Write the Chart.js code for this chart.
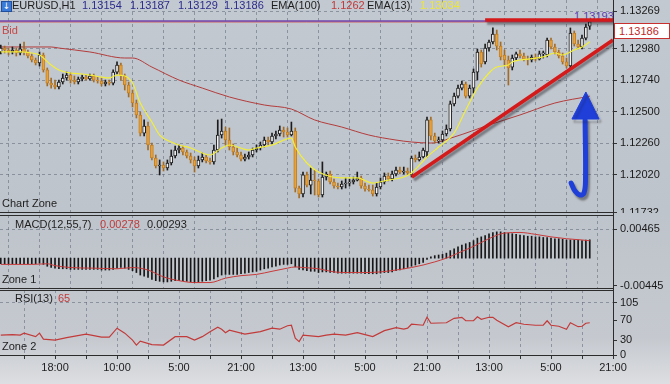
<!DOCTYPE html>
<html><head><meta charset="utf-8">
<script src="https://cdn.jsdelivr.net/npm/chart.js@4.4.0/dist/chart.umd.min.js"></script>
<style>
html,body{margin:0;padding:0;}
body{width:670px;height:384px;position:relative;overflow:hidden;background:linear-gradient(to bottom,#c3c9d0 0%,#bec4cb 55%,#c5c9cf 88%,#dcdee1 100%);font-family:'Liberation Sans',Arial,sans-serif;}
.t{position:absolute;white-space:nowrap;line-height:13px;font-size:11px;color:#1e1e1e;z-index:4;}
.pane{position:absolute;left:0;width:670px;z-index:2;}
.ln{position:absolute;background:#2c2c2c;z-index:3;}
</style></head><body>
<div class="t" style="left:574px;top:10px;color:#5a3cb0;z-index:1;">1.13193</div>
<div class="pane" style="top:0;height:213px;"><canvas id="c1"></canvas></div>
<div class="pane" style="top:213px;height:76px;"><canvas id="c2"></canvas></div>
<div class="pane" style="top:289px;height:95px;"><canvas id="c3"></canvas></div>
<div class="ln" style="left:613px;top:0;width:1px;height:356px;"></div>
<div class="ln" style="left:0;top:212px;width:614px;height:1px;"></div>
<div class="ln" style="left:0;top:215px;width:614px;height:1px;"></div>
<div class="ln" style="left:0;top:288px;width:614px;height:1px;"></div>
<div class="ln" style="left:0;top:290px;width:614px;height:1px;"></div>
<div class="ln" style="left:0;top:355px;width:614px;height:1px;"></div>
<div style="position:absolute;left:1px;top:1px;width:9px;height:9px;background:#3b7ad6;border:1px solid #1f4f9e;color:#fff;font-size:9px;line-height:9px;text-align:center;z-index:4;font-family:'DejaVu Sans',sans-serif;">↓</div>
<div class="t" style="left:12px;top:-1px;">EURUSD,H1</div>
<div class="t" style="left:82px;top:-1px;color:#2c2c8c;">1.13154</div>
<div class="t" style="left:130px;top:-1px;color:#2c2c8c;">1.13187</div>
<div class="t" style="left:178px;top:-1px;color:#2c2c8c;">1.13129</div>
<div class="t" style="left:224px;top:-1px;color:#2c2c8c;">1.13186</div>
<div class="t" style="left:271px;top:-1px;">EMA(100)</div>
<div class="t" style="left:331px;top:-1px;color:#c23a3a;">1.1262</div>
<div class="t" style="left:367px;top:-1px;">EMA(13)</div>
<div class="t" style="left:420px;top:-1px;color:#ece63a;">1.13034</div>
<div class="t" style="left:2px;top:24px;color:#c84848;">Bid</div>
<div class="t" style="left:2px;top:197px;">Chart Zone</div>
<div class="t" style="left:15px;top:218px;">MACD(12,55,7)</div>
<div class="t" style="left:100px;top:218px;color:#c23a3a;">0.00278</div>
<div class="t" style="left:147px;top:218px;">0.00293</div>
<div class="t" style="left:2px;top:273px;">Zone 1</div>
<div class="t" style="left:15px;top:292px;">RSI(13)</div>
<div class="t" style="left:58px;top:292px;color:#c23a3a;">65</div>
<div class="t" style="left:2px;top:340px;">Zone 2</div>
<div class="t" style="left:614px;top:23px;width:50px;height:14px;background:#fff;border:1px solid #c83030;color:#c02828;padding-left:4px;line-height:14px;">1.13186</div>
<script>
// ---- data ----
const open=[1.12957,1.12987,1.12972,1.12957,1.12972,1.12949,1.12980,1.12957,1.12926,1.12896,
1.12873,1.12934,1.12820,1.12720,1.12705,1.12690,1.12728,1.12759,1.12781,1.12743,
1.12728,1.12751,1.12766,1.12751,1.12774,1.12743,1.12736,1.12713,1.12728,1.12720,
1.12804,1.12858,1.12774,1.12705,1.12644,1.12568,1.12477,1.12339,1.12393,1.12248,
1.12149,1.12088,1.12096,1.12073,1.12111,1.12164,1.12210,1.12225,1.12195,1.12164,
1.12134,1.12088,1.12134,1.12157,1.12126,1.12119,1.12210,1.12324,1.12355,1.12286,
1.12233,1.12195,1.12172,1.12141,1.12157,1.12172,1.12210,1.12225,1.12248,1.12286,
1.12271,1.12317,1.12332,1.12362,1.12347,1.12324,1.12355,1.11920,1.11875,1.12020,
1.11943,1.11981,1.11974,1.11867,1.12004,1.12027,1.11966,1.11936,1.11928,1.11951,
1.11958,1.11966,1.11981,1.11997,1.11936,1.11913,1.11905,1.11875,1.11928,1.11966,
1.12012,1.11989,1.12027,1.12057,1.12042,1.12050,1.12020,1.12149,1.12134,1.12157,
1.12195,1.12439,1.12317,1.12279,1.12286,1.12332,1.12370,1.12561,1.12621,1.12682,
1.12713,1.12621,1.12682,1.12804,1.12957,1.12881,1.12987,1.13033,1.13094,1.13002,
1.12934,1.12896,1.12842,1.12911,1.12942,1.12926,1.12903,1.12896,1.12919,1.12903,
1.12942,1.12934,1.13048,1.12995,1.12957,1.12926,1.12881,1.12850,1.13101,1.13018,
1.12995,1.13063,1.13154];
const high=[1.13010,1.13002,1.12987,1.12995,1.12987,1.13018,1.13033,1.12972,1.12942,1.12911,
1.12957,1.12949,1.12835,1.12759,1.12743,1.12743,1.12789,1.12804,1.12797,1.12774,
1.12766,1.12781,1.12781,1.12789,1.12789,1.12766,1.12759,1.12743,1.12743,1.12820,
1.12881,1.12873,1.12789,1.12728,1.12667,1.12591,1.12500,1.12439,1.12423,1.12263,
1.12172,1.12134,1.12119,1.12134,1.12210,1.12240,1.12248,1.12240,1.12210,1.12187,
1.12157,1.12164,1.12187,1.12172,1.12149,1.12248,1.12439,1.12446,1.12385,1.12378,
1.12256,1.12225,1.12195,1.12179,1.12195,1.12225,1.12248,1.12271,1.12309,1.12309,
1.12339,1.12355,1.12393,1.12385,1.12378,1.12423,1.12378,1.11936,1.12042,1.12042,
1.12073,1.12057,1.11989,1.12119,1.12042,1.12050,1.11989,1.11958,1.11974,1.11997,
1.11989,1.12004,1.12042,1.12012,1.11958,1.11943,1.11943,1.11958,1.11997,1.12035,
1.12035,1.12050,1.12080,1.12080,1.12080,1.12073,1.12164,1.12172,1.12195,1.12225,
1.12461,1.12461,1.12339,1.12309,1.12355,1.12401,1.12583,1.12644,1.12705,1.12736,
1.12728,1.12705,1.12827,1.12980,1.12972,1.13018,1.13048,1.13140,1.13124,1.13033,
1.12972,1.12926,1.12934,1.12957,1.12972,1.12949,1.12926,1.12934,1.12942,1.12964,
1.12964,1.13063,1.13063,1.13018,1.12972,1.12949,1.12911,1.13140,1.13117,1.13048,
1.13086,1.13170,1.13187];
const low=[1.12942,1.12949,1.12934,1.12942,1.12926,1.12934,1.12934,1.12911,1.12881,1.12858,
1.12850,1.12804,1.12698,1.12682,1.12675,1.12675,1.12713,1.12743,1.12720,1.12713,
1.12713,1.12736,1.12743,1.12743,1.12728,1.12720,1.12698,1.12698,1.12705,1.12705,
1.12789,1.12743,1.12667,1.12614,1.12538,1.12454,1.12317,1.12317,1.12210,1.12134,
1.12073,1.12020,1.12050,1.12057,1.12096,1.12149,1.12187,1.12172,1.12149,1.12111,
1.12042,1.12073,1.12119,1.12111,1.12103,1.12103,1.12195,1.12301,1.12248,1.12210,
1.12172,1.12157,1.12126,1.12126,1.12141,1.12157,1.12195,1.12210,1.12233,1.12248,
1.12256,1.12294,1.12317,1.12309,1.12309,1.12317,1.11890,1.11844,1.11852,1.11928,
1.11875,1.11867,1.11852,1.11852,1.11981,1.11951,1.11920,1.11913,1.11913,1.11920,
1.11936,1.11951,1.11974,1.11920,1.11897,1.11897,1.11859,1.11859,1.11913,1.11951,
1.11974,1.11974,1.12012,1.12027,1.12027,1.12020,1.12004,1.12119,1.12126,1.12149,
1.12157,1.12286,1.12263,1.12263,1.12271,1.12317,1.12355,1.12545,1.12606,1.12667,
1.12606,1.12606,1.12644,1.12743,1.12842,1.12865,1.12964,1.13018,1.12972,1.12896,
1.12858,1.12705,1.12820,1.12896,1.12911,1.12888,1.12858,1.12881,1.12888,1.12896,
1.12911,1.12919,1.12980,1.12942,1.12911,1.12865,1.12835,1.12835,1.13002,1.12980,
1.12980,1.13048,1.13129];
const close=[1.12987,1.12972,1.12957,1.12972,1.12949,1.12980,1.12957,1.12926,1.12896,1.12873,
1.12934,1.12820,1.12720,1.12705,1.12690,1.12728,1.12759,1.12781,1.12743,1.12728,
1.12751,1.12766,1.12751,1.12774,1.12743,1.12736,1.12713,1.12728,1.12720,1.12804,
1.12858,1.12774,1.12705,1.12644,1.12568,1.12477,1.12339,1.12393,1.12248,1.12149,
1.12088,1.12096,1.12073,1.12111,1.12164,1.12210,1.12225,1.12195,1.12164,1.12134,
1.12088,1.12134,1.12157,1.12126,1.12119,1.12210,1.12324,1.12355,1.12286,1.12233,
1.12195,1.12172,1.12141,1.12157,1.12172,1.12210,1.12225,1.12248,1.12286,1.12271,
1.12317,1.12332,1.12362,1.12347,1.12324,1.12355,1.11920,1.11875,1.12020,1.11943,
1.11981,1.11974,1.11867,1.12004,1.12027,1.11966,1.11936,1.11928,1.11951,1.11958,
1.11966,1.11981,1.11997,1.11936,1.11913,1.11905,1.11875,1.11928,1.11966,1.12012,
1.11989,1.12027,1.12057,1.12042,1.12050,1.12035,1.12149,1.12134,1.12157,1.12210,
1.12439,1.12317,1.12279,1.12286,1.12332,1.12370,1.12561,1.12621,1.12682,1.12713,
1.12621,1.12682,1.12804,1.12957,1.12865,1.12987,1.13033,1.13094,1.13002,1.12919,
1.12896,1.12835,1.12911,1.12942,1.12926,1.12903,1.12896,1.12919,1.12903,1.12942,
1.12942,1.13048,1.12995,1.12957,1.12926,1.12881,1.12850,1.13101,1.13018,1.12995,
1.13063,1.13147,1.13186];

const ema13Idx=[0,5,8,10,13,15,18,21,23,26,28,30,32,34,36,39,41,44,46,49,52,54,57,59,64,66,70,75,76,79,82,88,92,96,100,104,106,110,113,117,120,123,126,128,131,132,136,140,143,145,148,150,152];
const ema13Val=[1.12957,1.12957,1.12949,1.12934,1.12858,1.12820,1.12797,1.12789,1.12781,1.12766,1.12759,1.12781,1.12774,1.12720,1.12568,1.12423,1.12324,1.12271,1.12248,1.12225,1.12187,1.12172,1.12225,1.12248,1.12210,1.12225,1.12248,1.12301,1.12233,1.12111,1.12042,1.11997,1.11997,1.11958,1.11981,1.12004,1.12035,1.12157,1.12233,1.12339,1.12515,1.12682,1.12797,1.12842,1.12858,1.12881,1.12903,1.12919,1.12949,1.12934,1.12972,1.12995,1.13034];
const ema100Idx=[0,13,15,23,32,34,39,46,52,59,68,75,81,88,95,102,106,111,117,126,134,143,152];
const ema100Val=[1.12995,1.12995,1.12987,1.12957,1.12911,1.12911,1.12842,1.12743,1.12682,1.12614,1.12553,1.12522,1.12439,1.12385,1.12324,1.12286,1.12271,1.12263,1.12309,1.12401,1.12477,1.12568,1.1262];

const macdHist=[-0.0009,-0.0009,-0.0009,-0.0009,-0.0009,-0.0009,-0.0009,-0.0009,-0.0009,-0.0009,
-0.0008,-0.0010,-0.0013,-0.0015,-0.0016,-0.0017,-0.0017,-0.0017,-0.0018,-0.0018,
-0.0018,-0.0018,-0.0018,-0.0018,-0.0018,-0.0018,-0.0019,-0.0019,-0.0019,-0.0018,
-0.0016,-0.0015,-0.0016,-0.0018,-0.0020,-0.0023,-0.0027,-0.0029,-0.0031,-0.0034,
-0.0036,-0.0037,-0.0038,-0.0038,-0.0037,-0.0036,-0.0036,-0.0036,-0.0037,-0.0038,
-0.0039,-0.0038,-0.0037,-0.0036,-0.0035,-0.0033,-0.0030,-0.0027,-0.0026,-0.0026,
-0.0026,-0.0026,-0.0025,-0.0024,-0.0023,-0.0022,-0.0021,-0.0019,-0.0017,-0.0016,
-0.0014,-0.0013,-0.0011,-0.0010,-0.0010,-0.0009,-0.0014,-0.0018,-0.0019,-0.0020,
-0.0021,-0.0021,-0.0023,-0.0022,-0.0022,-0.0023,-0.0023,-0.0024,-0.0024,-0.0024,
-0.0024,-0.0024,-0.0024,-0.0024,-0.0025,-0.0025,-0.0025,-0.0025,-0.0024,-0.0023,
-0.0023,-0.0022,-0.0020,-0.0019,-0.0017,-0.0015,-0.0013,-0.0011,-0.0009,-0.0007,
-0.0002,0.0002,0.0004,0.0005,0.0006,0.0008,0.0012,0.0015,0.0018,0.0021,
0.0023,0.0025,0.0028,0.0032,0.0034,0.0036,0.0039,0.0041,0.0042,0.0042,
0.0041,0.0040,0.0039,0.0038,0.0037,0.0036,0.0035,0.0035,0.0034,0.0034,
0.0033,0.0033,0.0032,0.0031,0.0031,0.0030,0.0029,0.0029,0.0029,0.0029,
0.0028,0.0029,0.00293];
const signalIdx=[0,8,12,14,18,24,30,34,38,42,46,50,54,58,62,66,70,74,76,78,82,86,90,94,98,102,106,109,112,115,118,121,124,127,130,134,138,142,146,150,152];
const signalVal=[-0.0010,-0.0010,-0.0009,-0.0012,-0.0015,-0.0016,-0.0017,-0.0015,-0.0019,-0.0030,-0.0036,-0.0039,-0.0039,-0.0032,-0.0028,-0.0026,-0.0021,-0.0016,-0.0014,-0.0015,-0.0017,-0.0022,-0.0023,-0.0023,-0.0022,-0.0019,-0.0015,-0.0011,-0.0006,0.0000,0.0008,0.0016,0.0025,0.0034,0.0040,0.0041,0.0038,0.0034,0.0031,0.0029,0.00278];

const rsiIdx=[0,3,5,6,9,10,11,14,17,22,26,28,30,32,34,35,36,39,42,45,48,50,52,54,56,57,58,59,63,67,70,72,74,75,76,77,78,82,84,86,89,92,94,96,99,102,104,105,106,109,110,111,115,117,119,120,122,123,124,126,127,128,131,133,135,138,140,141,142,144,146,147,149,150,151,152];
const rsiVal=[40,41,40,44,37,44,32,30,35,42,36,36,54,44,30,20,28,21,20,37,37,30,37,47,56,52,45,50,42,47,54,52,59,60,34,27,40,37,40,42,40,45,41,37,49,55,52,54,62,60,76,64,65,74,76,69,69,77,72,76,76,70,57,65,62,60,60,69,60,58,52,65,57,58,64,65];

const priceTicks=[1.11732,1.12020,1.12260,1.12500,1.12740,1.12980,1.13269];
const macdTicks=[-0.00445,0.00465];
const rsiTicks=[0,30,70,105];
const gridIdx=[6,14,22,30,38,46,54,62,70,78,86,94,102,110,118,126,134,142,150,158];
const labelIdx=[14,30,46,62,78,94,110,126,142,158];
const labelText=['18:00','10:00','5:00','21:00','13:00','5:00','21:00','13:00','5:00','21:00'];
const askPrice=1.13193, bidPrice=1.13186;
// drawn annotations (index, price)
const trendX=[106.1,158], trendY=[1.12004,1.13048];
const resistX=[125,158], resistY=[1.13200,1.13200];
const shaftX=[147.2,148.2,149.5,150.5,150.9,150.8], shaftY=[1.11958,1.11897,1.11867,1.11882,1.11981,1.12439];
const headX=[147.4,151.0,154.4,147.4], headY=[1.12446,1.12652,1.12446,1.12446];

// ---- charts ----
Chart.defaults.font.family="'Liberation Sans', Arial, sans-serif";
Chart.defaults.font.size=11;
Chart.defaults.color='#1a1a1a';
const GRID='rgba(92,102,118,0.55)';
const pts=(xs,ys)=>xs.map((x,k)=>({x,y:ys[k]}));
const idx=close.map((_,i)=>i);
const bull=close.map((c,i)=>c>=open[i]);

const shadowPlugin={id:'shadow',
 beforeDatasetDraw(chart,args){const ds=chart.data.datasets[args.index];if(ds.shadow){const c=chart.ctx;c.save();c.shadowColor='rgba(30,30,40,0.45)';c.shadowOffsetX=2;c.shadowOffsetY=3;c.shadowBlur=2;}},
 afterDatasetDraw(chart,args){const ds=chart.data.datasets[args.index];if(ds.shadow){chart.ctx.restore();}}
};

function xScale(show){
 return {type:'linear',min:-0.2,max:158,offset:false,
  afterBuildTicks:s=>{s.ticks=gridIdx.map(v=>({value:v}));},
  ticks:{display:show,autoSkip:false,maxRotation:0,minRotation:0,padding:2,color:'#1e1e1e',
    callback:v=>{const k=labelIdx.indexOf(v);return k>=0?labelText[k]:'';}},
  grid:{color:GRID,lineWidth:1,drawTicks:show,tickLength:4,tickColor:'#333',tickBorderDash:[]},
  border:{display:false,dash:[3,3]},
  afterFit:s=>{s.height=show?29:0;s.paddingLeft=0;s.paddingRight=0;}
 };
}
function yScale(min,max,tv,fmt,showGrid){
 return {position:'right',min,max,
  afterBuildTicks:s=>{s.ticks=tv.map(v=>({value:v}));},
  afterFit:s=>{s.width=57;s.paddingTop=0;s.paddingBottom=0;},
  ticks:{padding:3,autoSkip:false,color:'#1a1a1a',callback:fmt},
  grid:{color:c=>(c.tick&&showGrid(c.tick.value))?GRID:'rgba(0,0,0,0)',tickLength:4,tickColor:'#333',tickBorderDash:[],drawTicks:true},
  border:{display:false,dash:[3,3]}
 };
}
const common={animation:false,responsive:true,maintainAspectRatio:false,devicePixelRatio:1,events:[],
 plugins:{legend:{display:false},tooltip:{enabled:false}}};

new Chart(document.getElementById('c1'),{
 type:'bar',
 data:{datasets:[
  {type:'line',data:pts([-0.2,158],[askPrice,askPrice]),borderColor:'#7048b0',borderWidth:1.5,pointRadius:0,order:10},
  {type:'line',data:pts([-0.2,158],[bidPrice,bidPrice]),borderColor:'#d04848',borderWidth:1,pointRadius:0,order:10},
  {type:'line',data:pts(ema100Idx,ema100Val),borderColor:'#b23c3c',borderWidth:1,pointRadius:0,cubicInterpolationMode:'monotone',order:9},
  {type:'bar',data:idx.map(i=>({x:i,y:[low[i],high[i]]})),backgroundColor:bull.map(b=>b?'#1c1c1c':'#a26c26'),barThickness:1,grouped:false,order:8},
  {type:'bar',data:idx.map(i=>({x:i,y:[open[i],close[i]]})),backgroundColor:bull.map(b=>b?'#f2f2f2':'#e8a23a'),borderColor:bull.map(b=>b?'#1c1c1c':'#c47f22'),borderWidth:1,borderSkipped:false,barThickness:3,minBarLength:1,grouped:false,order:7},
  {type:'line',data:pts(ema13Idx,ema13Val),borderColor:'#f2ee3a',borderWidth:1.2,pointRadius:0,cubicInterpolationMode:'monotone',order:6},
  {type:'line',data:pts(trendX,trendY),borderColor:'#d41a1a',borderWidth:3.5,pointRadius:0,shadow:true,order:4},
  {type:'line',data:pts(resistX,resistY),borderColor:'#d41a1a',borderWidth:3.5,pointRadius:0,shadow:true,order:4},
  {type:'line',data:pts(shaftX,shaftY),borderColor:'#1f3fd8',borderWidth:5,pointRadius:0,tension:0.4,borderCapStyle:'round',shadow:true,order:3},
  {type:'line',data:pts(headX,headY),borderColor:'#1f3fd8',backgroundColor:'#1f3fd8',borderWidth:1,pointRadius:0,fill:'shape',shadow:true,order:2}
 ]},
 options:Object.assign({},common,{layout:{padding:0},
  scales:{x:xScale(false),y:yScale(1.11730,1.13353,priceTicks,v=>v.toFixed(5),()=>true)}}),
 plugins:[shadowPlugin]
});

new Chart(document.getElementById('c2'),{
 type:'bar',
 data:{datasets:[
  {type:'line',data:pts(signalIdx,signalVal),borderColor:'#c83a3a',borderWidth:1,pointRadius:0,cubicInterpolationMode:'monotone',order:1},
  {type:'bar',data:idx.map(i=>({x:i,y:macdHist[i]})),backgroundColor:'#161616',barThickness:1,order:2}
 ]},
 options:Object.assign({},common,{layout:{padding:{top:2,bottom:1}},
  scales:{x:xScale(false),y:yScale(-0.00477,0.00689,macdTicks,v=>v.toFixed(5),v=>v===0.00465)}})
});

new Chart(document.getElementById('c3'),{
 type:'line',
 data:{datasets:[
  {data:pts(rsiIdx,rsiVal),borderColor:'#c23a3a',borderWidth:1.2,pointRadius:0,tension:0}
 ]},
 options:Object.assign({},common,{layout:{padding:{top:1}},
  scales:{x:xScale(true),y:yScale(0,131,rsiTicks,v=>String(v),v=>v===105)}})
});
</script>
</body></html>
